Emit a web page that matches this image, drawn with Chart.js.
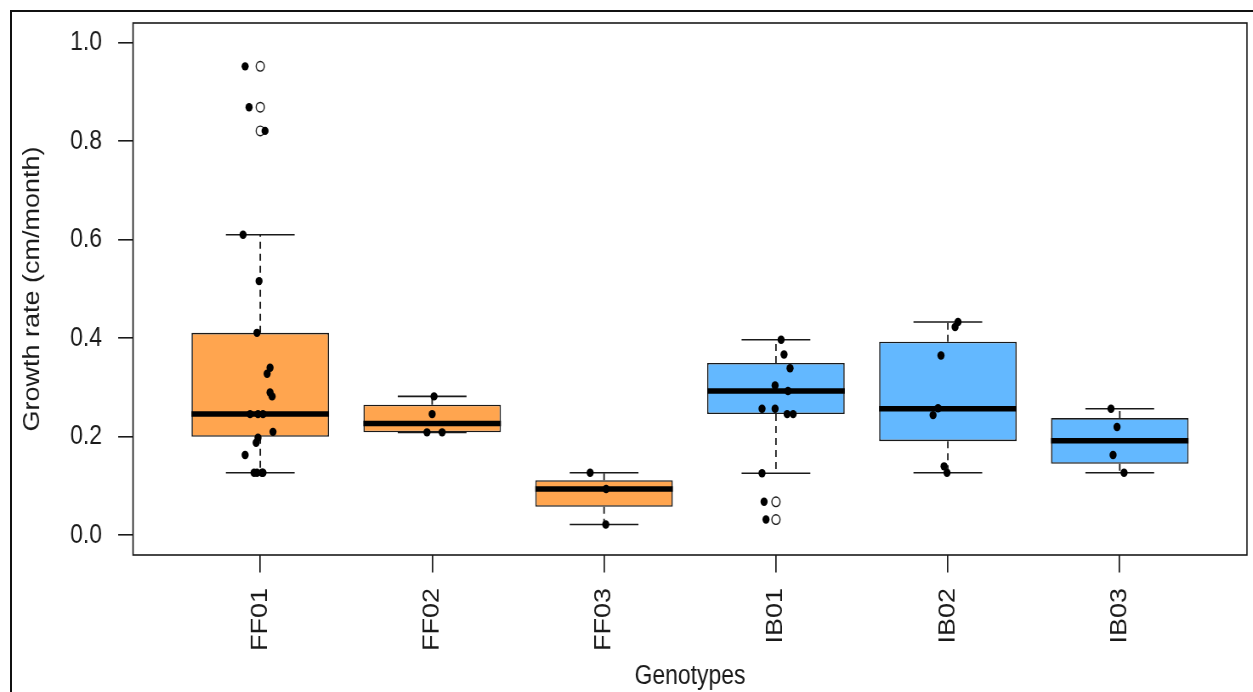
<!DOCTYPE html>
<html>
<head>
<meta charset="utf-8">
<script src="https://cdn.jsdelivr.net/npm/chart.js@4"></script>
<style>
  html, body { margin: 0; padding: 0; background: #fff; overflow: hidden; }
  #wrap { position: relative; width: 1253px; height: 692px; overflow: hidden; background: #fff; }
  #c { position: absolute; left: 0; top: 0; transform: scaleX(0.85); transform-origin: 0 0; }
  #frame { position: absolute; left: 10px; top: 10px; width: 1270px; height: 700px;
           border-top: 2px solid #111; border-left: 2px solid #111; pointer-events: none; }
</style>
</head>
<body>
<div id="wrap">
  <canvas id="c" width="1474" height="692"></canvas>
  <div id="frame"></div>
</div>
<script>
// ---- data ----
const genotypes    = ['FF01', 'FF02', 'FF03', 'IB01', 'IB02', 'IB03'];
const upperWhisker = [0.610, 0.282, 0.127, 0.397, 0.433, 0.257];
const q3           = [0.411, 0.265, 0.112, 0.350, 0.393, 0.238];
const median       = [0.246, 0.227, 0.094, 0.293, 0.257, 0.192];
const q1           = [0.200, 0.209, 0.058, 0.246, 0.191, 0.145];
const lowerWhisker = [0.127, 0.209, 0.022, 0.126, 0.127, 0.127];
const outliers     = [[0.952, 0.869, 0.821], [], [], [0.068, 0.032], [], []];

const observations = [
  [0.952, 0.869, 0.821, 0.610, 0.516, 0.411, 0.340, 0.328, 0.290, 0.282, 0.246, 0.246, 0.246, 0.210, 0.198, 0.188, 0.163, 0.127, 0.127, 0.127, 0.127],
  [0.282, 0.246, 0.209, 0.209],
  [0.127, 0.094, 0.022],
  [0.397, 0.367, 0.339, 0.304, 0.293, 0.257, 0.257, 0.246, 0.246, 0.126, 0.068, 0.032],
  [0.433, 0.423, 0.365, 0.258, 0.244, 0.140, 0.127],
  [0.257, 0.220, 0.163, 0.127]
];
const jitter = [
  [-0.088, -0.065, 0.028, -0.100, -0.007, -0.019, 0.057, 0.040, 0.057, 0.069, -0.059, -0.013, 0.016, 0.074, -0.013, -0.024, -0.088, -0.036, -0.019, 0.010, 0.016],
  [0.011, 0.000, -0.030, 0.058],
  [-0.081, 0.012, 0.010],
  [0.030, 0.047, 0.082, -0.005, 0.070, -0.081, -0.005, 0.065, 0.100, -0.081, -0.069, -0.058],
  [0.059, 0.042, -0.040, -0.057, -0.086, -0.022, -0.005],
  [-0.051, -0.016, -0.039, 0.025]
];
const yTicks = [0.0, 0.2, 0.4, 0.6, 0.8, 1.0];

// ---- styling ----
const boxColors = ['#FFA54F', '#FFA54F', '#FFA54F', '#63B8FF', '#63B8FF', '#63B8FF'];
const INK = '#1a1a1a';
const FONT = '"Liberation Sans", Arial, sans-serif';
const BOX_HALF = 0.4, STAPLE_HALF = 0.2;

const xs = genotypes.map((_, i) => i + 1);
const boxData = xs.map((x, i) => ({ x, y: [q1[i], q3[i]] }));
const medianData = xs.flatMap((x, i) => [
  { x: x - BOX_HALF, y: median[i] }, { x: x + BOX_HALF, y: median[i] }, { x, y: null }]);
const whiskerData = xs.flatMap((x, i) => [
  { x, y: q3[i] }, { x, y: upperWhisker[i] }, { x, y: null },
  { x, y: q1[i] }, { x, y: lowerWhisker[i] }, { x, y: null }]);
const stapleData = xs.flatMap((x, i) => [
  { x: x - STAPLE_HALF, y: upperWhisker[i] }, { x: x + STAPLE_HALF, y: upperWhisker[i] }, { x, y: null },
  { x: x - STAPLE_HALF, y: lowerWhisker[i] }, { x: x + STAPLE_HALF, y: lowerWhisker[i] }, { x, y: null }]);
const outlierData = xs.flatMap((x, i) => outliers[i].map(v => ({ x, y: v })));
const pointData = xs.flatMap((x, i) => observations[i].map((v, j) => ({ x: x + jitter[i][j], y: v })));

const plotFrame = {
  id: 'plotFrame',
  afterDatasetsDraw(chart) {
    const { ctx, chartArea: a } = chart;
    ctx.save();
    ctx.strokeStyle = INK;
    ctx.lineWidth = 1.6;
    ctx.strokeRect(a.left, a.top, a.right - a.left, a.bottom - a.top);
    ctx.restore();
  }
};

Chart.defaults.font.family = FONT;
Chart.defaults.color = INK;

const lineBase = { type: 'line', pointRadius: 0, tension: 0, spanGaps: false, fill: false, borderColor: INK };

new Chart(document.getElementById('c'), {
  type: 'bar',
  data: {
    datasets: [
      { type: 'line', data: pointData, showLine: false, pointRadius: 4.2, pointBackgroundColor: '#000',
        pointBorderColor: '#000', pointBorderWidth: 0, order: 0 },
      { type: 'line', data: outlierData, showLine: false, pointRadius: 4.8, pointBackgroundColor: 'rgba(0,0,0,0)',
        pointBorderColor: INK, pointBorderWidth: 1.4, order: 1 },
      { ...lineBase, data: medianData, borderWidth: 5.5, borderColor: '#000', order: 2 },
      { ...lineBase, data: stapleData, borderWidth: 1.6, order: 3 },
      { ...lineBase, data: whiskerData, borderWidth: 1.8, borderDash: [7, 5], order: 4 },
      { type: 'bar', data: boxData, backgroundColor: boxColors, borderColor: INK, borderWidth: 1.6,
        borderSkipped: false, categoryPercentage: 1, barPercentage: 0.8, order: 5 }
    ]
  },
  options: {
    responsive: false,
    animation: false,
    events: [],
    layout: { padding: { top: 23, right: 7, left: 0, bottom: 0 } },
    plugins: { legend: { display: false }, tooltip: { enabled: false } },
    scales: {
      x: {
        type: 'linear', min: 0.26, max: 6.74, offset: false,
        afterBuildTicks: s => { s.ticks = xs.map(v => ({ value: v })); },
        afterFit: s => { s.height = 137; s.paddingLeft = 0; s.paddingRight = 0; },
        grid: { display: true, offset: false, drawOnChartArea: false, drawTicks: true, tickLength: 17.5, color: INK, lineWidth: 1.7 },
        border: { display: false },
        ticks: { autoSkip: false, minRotation: 90, maxRotation: 90, padding: 15.5, color: INK, font: { size: 27 },
                 callback: (v, i) => genotypes[i] },
        title: { display: true, text: 'Genotypes', color: INK, font: { size: 27, lineHeight: 1 }, padding: { top: 0, bottom: 2 } }
      },
      y: {
        type: 'linear', min: -0.04, max: 1.04,
        afterBuildTicks: s => { s.ticks = yTicks.map(v => ({ value: v })); },
        afterFit: s => { s.width = 156.5; s.paddingTop = 0; s.paddingBottom = 0; },
        grid: { display: true, drawOnChartArea: false, drawTicks: true, tickLength: 17.5, color: INK, lineWidth: 1.6 },
        border: { display: false },
        ticks: { padding: 19, color: INK, font: { size: 27 }, callback: v => Number(v).toFixed(1) },
        title: { display: true, text: 'Growth rate (cm/month)', color: INK, font: { size: 27, lineHeight: 1 }, padding: { top: 25, bottom: 0 } }
      }
    }
  },
  plugins: [plotFrame]
});
</script>
</body>
</html>
